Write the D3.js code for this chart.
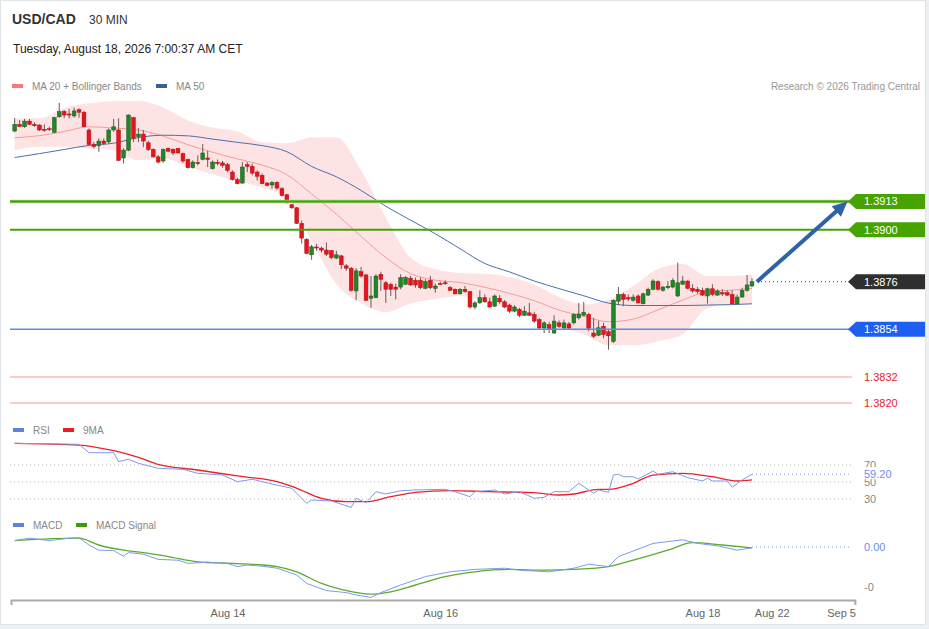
<!DOCTYPE html>
<html>
<head>
<meta charset="utf-8">
<script src="https://cdn.jsdelivr.net/npm/d3@7"></script>
<style>
  html, body { margin: 0; padding: 0; background: #eef1f4; }
  svg { display: block; font-family: "Liberation Sans", Arial, sans-serif; }
</style>
</head>
<body>
<svg id="chart" width="929" height="629"></svg>
<script>
// ---- candles (30 min) ----
const opens = [
  1.39455,1.39486,1.39475,1.39501,1.39486,1.39483,1.39463,1.39466,1.39449,1.39521,
  1.39545,1.39534,1.39525,1.39554,1.39542,1.39460,1.39393,1.39387,1.39409,1.39405,
  1.39460,1.39460,1.39331,1.39367,1.39517,1.39429,1.39441,1.39401,1.39371,1.39336,
  1.39317,1.39375,1.39371,1.39375,1.39351,1.39324,1.39286,1.39310,1.39324,1.39331,
  1.39282,1.39311,1.39308,1.39300,1.39266,1.39231,1.39215,1.39300,1.39292,1.39266,
  1.39251,1.39215,1.39206,1.39218,1.39189,1.39161,1.39115,1.39101,1.39029,1.38955,
  1.38884,1.38920,1.38915,1.38906,1.38903,1.38869,1.38879,1.38833,1.38822,1.38717,
  1.38806,1.38791,1.38683,1.38686,1.38794,1.38755,1.38748,1.38735,1.38735,1.38748,
  1.38776,1.38766,1.38766,1.38729,1.38766,1.38729,1.38751,1.38755,1.38732,1.38725,
  1.38704,1.38725,1.38714,1.38643,1.38662,1.38686,1.38667,1.38647,1.38683,1.38667,
  1.38652,1.38624,1.38632,1.38605,1.38616,1.38609,1.38585,1.38546,1.38562,1.38523,
  1.38570,1.38546,1.38565,1.38570,1.38593,1.38605,1.38609,1.38523,1.38513,1.38554,
  1.38529,1.38485,1.38670,1.38701,1.38686,1.38674,1.38694,1.38658,1.38698,1.38725,
  1.38760,1.38720,1.38732,1.38735,1.38694,1.38748,1.38763,1.38729,1.38725,1.38720,
  1.38694,1.38727,1.38698,1.38709,1.38709,1.38701,1.38658,1.38689,1.38720,1.38740
];
const highs = [
  1.39515,1.39506,1.39511,1.39511,1.39495,1.39486,1.39486,1.39475,1.39521,1.39585,
  1.39552,1.39557,1.39563,1.39560,1.39548,1.39467,1.39405,1.39421,1.39421,1.39467,
  1.39511,1.39514,1.39376,1.39532,1.39521,1.39469,1.39460,1.39410,1.39375,1.39344,
  1.39375,1.39379,1.39375,1.39377,1.39356,1.39328,1.39320,1.39344,1.39395,1.39364,
  1.39320,1.39324,1.39317,1.39308,1.39274,1.39240,1.39312,1.39312,1.39305,1.39274,
  1.39259,1.39220,1.39224,1.39224,1.39196,1.39166,1.39119,1.39104,1.39042,1.38961,
  1.38930,1.38934,1.38921,1.38941,1.38906,1.38903,1.38884,1.38841,1.38828,1.38822,
  1.38828,1.38797,1.38786,1.38794,1.38806,1.38763,1.38755,1.38751,1.38794,1.38786,
  1.38786,1.38779,1.38779,1.38771,1.38786,1.38751,1.38760,1.38766,1.38740,1.38729,
  1.38731,1.38740,1.38717,1.38670,1.38720,1.38701,1.38686,1.38701,1.38698,1.38675,
  1.38658,1.38652,1.38639,1.38647,1.38662,1.38621,1.38593,1.38578,1.38574,1.38605,
  1.38581,1.38585,1.38574,1.38616,1.38662,1.38667,1.38616,1.38593,1.38578,1.38570,
  1.38540,1.38678,1.38735,1.38709,1.38701,1.38701,1.38701,1.38709,1.38732,1.38771,
  1.38766,1.38740,1.38763,1.38776,1.38848,1.38786,1.38766,1.38748,1.38735,1.38732,
  1.38732,1.38748,1.38725,1.38725,1.38720,1.38720,1.38701,1.38732,1.38791,1.38776
];
const lows = [
  1.39450,1.39474,1.39470,1.39483,1.39475,1.39455,1.39452,1.39455,1.39449,1.39517,
  1.39514,1.39514,1.39517,1.39517,1.39472,1.39390,1.39375,1.39359,1.39390,1.39398,
  1.39452,1.39316,1.39305,1.39362,1.39405,1.39404,1.39381,1.39364,1.39333,1.39305,
  1.39308,1.39359,1.39344,1.39351,1.39308,1.39282,1.39282,1.39297,1.39320,1.39289,
  1.39277,1.39297,1.39286,1.39266,1.39227,1.39209,1.39212,1.39266,1.39251,1.39227,
  1.39209,1.39200,1.39189,1.39184,1.39153,1.39119,1.39096,1.39026,1.38936,1.38887,
  1.38861,1.38903,1.38895,1.38879,1.38864,1.38864,1.38818,1.38810,1.38714,1.38674,
  1.38779,1.38670,1.38639,1.38683,1.38717,1.38662,1.38694,1.38678,1.38725,1.38745,
  1.38740,1.38732,1.38725,1.38725,1.38725,1.38709,1.38745,1.38745,1.38717,1.38701,
  1.38701,1.38709,1.38636,1.38632,1.38658,1.38662,1.38639,1.38643,1.38658,1.38638,
  1.38616,1.38619,1.38596,1.38601,1.38601,1.38570,1.38539,1.38523,1.38523,1.38519,
  1.38546,1.38539,1.38539,1.38562,1.38585,1.38601,1.38531,1.38500,1.38508,1.38499,
  1.38446,1.38477,1.38652,1.38647,1.38670,1.38667,1.38658,1.38655,1.38694,1.38720,
  1.38720,1.38714,1.38725,1.38729,1.38689,1.38745,1.38725,1.38709,1.38704,1.38694,
  1.38658,1.38694,1.38694,1.38694,1.38694,1.38655,1.38655,1.38686,1.38714,1.38735
];
const closes = [
  1.39486,1.39477,1.39501,1.39486,1.39480,1.39460,1.39460,1.39462,1.39517,1.39545,
  1.39529,1.39529,1.39548,1.39542,1.39475,1.39393,1.39384,1.39409,1.39398,1.39460,
  1.39475,1.39320,1.39367,1.39529,1.39421,1.39441,1.39409,1.39370,1.39336,1.39312,
  1.39370,1.39362,1.39354,1.39354,1.39317,1.39286,1.39312,1.39305,1.39354,1.39324,
  1.39312,1.39306,1.39297,1.39274,1.39231,1.39212,1.39289,1.39292,1.39261,1.39246,
  1.39212,1.39204,1.39218,1.39192,1.39158,1.39127,1.39101,1.39029,1.38961,1.38890,
  1.38921,1.38916,1.38906,1.38887,1.38871,1.38884,1.38838,1.38822,1.38720,1.38810,
  1.38786,1.38674,1.38694,1.38786,1.38771,1.38725,1.38725,1.38725,1.38779,1.38779,
  1.38745,1.38745,1.38732,1.38760,1.38732,1.38740,1.38747,1.38752,1.38720,1.38704,
  1.38725,1.38714,1.38643,1.38662,1.38686,1.38667,1.38643,1.38694,1.38667,1.38643,
  1.38624,1.38643,1.38605,1.38624,1.38605,1.38578,1.38546,1.38570,1.38539,1.38578,
  1.38554,1.38570,1.38546,1.38609,1.38611,1.38619,1.38545,1.38508,1.38547,1.38516,
  1.38510,1.38674,1.38701,1.38678,1.38680,1.38689,1.38662,1.38704,1.38725,1.38763,
  1.38725,1.38735,1.38739,1.38766,1.38755,1.38763,1.38729,1.38717,1.38714,1.38698,
  1.38727,1.38701,1.38717,1.38703,1.38698,1.38658,1.38689,1.38720,1.38745,1.38760
];

// ---- MA 20, Bollinger Bands, MA 50 (read every 5 candles) ----
const maIdx = [0,5,10,15,20,25,30,35,40,45,50,55,60,65,70,75,80,85,90,95,100,105,110,115,120,125,130,135,140,145,149];
const ma20 = [1.39424,1.39434,1.39453,1.39475,1.39469,1.39460,1.39432,1.39392,1.39357,1.39327,1.39298,1.39254,1.39165,1.39072,1.38969,1.38871,
  1.38797,1.38767,1.38756,1.38734,1.38706,1.38672,1.38629,1.38600,1.38575,1.38587,1.38630,1.38675,1.38714,1.38721,1.38729];
const ma50 = [1.39333,1.39351,1.39370,1.39389,1.39399,1.39425,1.39436,1.39433,1.39418,1.39403,1.39388,1.39360,1.39292,1.39244,1.39181,1.39108,
  1.39044,1.38981,1.38912,1.38844,1.38805,1.38763,1.38728,1.38695,1.38661,1.38650,1.38650,1.38650,1.38652,1.38654,1.38658];
const bbUpper = [1.39514,1.39514,1.39562,1.39583,1.39593,1.39594,1.39564,1.39504,1.39471,1.39453,1.39404,1.39399,1.39425,1.39427,1.39274,1.39056,
  1.38870,1.38817,1.38800,1.38796,1.38782,1.38747,1.38689,1.38655,1.38677,1.38740,1.38819,1.38841,1.38786,1.38786,1.38794];
const bbLower = [1.39367,1.39383,1.39383,1.39375,1.39367,1.39320,1.39330,1.39290,1.39256,1.39225,1.39195,1.39146,1.38949,1.38749,1.38661,1.38619,
  1.38659,1.38680,1.38694,1.38670,1.38633,1.38596,1.38552,1.38517,1.38466,1.38466,1.38485,1.38517,1.38638,1.38655,1.38655];

// ---- levels ----
const resistances = [1.3913, 1.3900];
const pivot = 1.3876;
const support1 = 1.3854;
const supports = [1.3832, 1.3820];

// ---- RSI + 9MA ----
const rsiIdx = [0,13,15,20,21,23,25,29,34,37,42,45,48,52,56,59,60,64,68,69,71,73,75,78,81,87,89,92,93,97,
  99,102,105,107,109,112,114,117,118,120,121,122,123,125,126,129,130,133,136,139,140,141,144,145,147,149];
const rsiVal = [95.5,94.4,84.5,84.5,73.9,76.7,72.0,66.1,64.9,60.2,58.2,50.4,53.2,47.6,42.6,24.9,28.8,27.6,20.2,30.8,
  25.6,38.6,35.9,39.8,40.6,41.4,38.6,32.7,38.6,40.6,35.9,38.6,30.8,32.0,38.6,38.6,48.5,36.7,40.6,37.9,
  58.2,59.1,56.2,56.2,53.5,62.9,59.1,62.1,55.1,51.2,54.4,51.2,51.2,43.8,52.4,59.2];
const rsiMaIdx = [0,13,20,25,29,37,45,53,57,62,67,71,76,81,88,96,105,110,113,118,120,125,129,135,141,146,149];
const rsiMaVal = [95.5,93.5,86.8,79.1,70.8,64.1,57.1,50.4,42.6,30.8,26.8,26.8,32.7,37.9,39.8,38.6,37.4,34.7,35.9,41.4,41.4,48.5,58.2,60.2,56.2,51.2,52.4];
const rsiTicks = [70, 50, 30];
const rsiLast = 59.20;

// ---- MACD + signal ----
const macdIdx = [0,3,7,11,13,15,17,20,22,23,26,29,33,35,39,43,45,47,50,53,57,59,63,67,69,72,74,78,83,88,
  93,99,102,108,113,116,120,122,125,129,135,138,142,146,149];
const macdVal = [0.00016,0.00022,0.00016,0.00022,0.00023,0.00005,-0.00008,-0.00009,-0.00023,-0.00014,
  -0.00018,-0.00031,-0.00033,-0.00041,-0.00038,-0.00041,-0.00049,-0.00045,-0.00048,-0.00053,
  -0.00070,-0.00091,-0.00109,-0.00114,-0.00120,-0.00126,-0.00114,-0.00095,-0.00074,-0.00062,
  -0.00056,-0.00053,-0.00058,-0.00062,-0.00053,-0.00043,-0.00049,-0.00024,-0.00010,0.00009,
  0.00018,0.00009,0.00003,-0.00008,-0.00002];
const sigIdx = [0,13,17,22,26,31,37,44,50,53,57,62,66,72,76,81,87,93,100,107,113,120,125,132,137,143,149];
const sigVal = [0.00016,0.00022,0.00005,-0.00008,-0.00014,-0.00024,-0.00037,-0.00041,-0.00045,-0.00049,
  -0.00062,-0.00091,-0.00106,-0.00118,-0.00112,-0.00095,-0.00074,-0.00062,-0.00056,-0.00058,
  -0.00056,-0.00049,-0.00033,-0.00008,0.00011,0.00005,-0.00002];
const macdTickVals = [-0.001];
const macdTickText = ["-0"];
const macdLastText = "0.00";

// ---- time axis ----
const tickIdx = [43, 86, 139, 153, 167];
const tickLabels = ["Aug 14", "Aug 16", "Aug 18", "Aug 22", "Sep 5"];

// ---- projection arrow ----
const arrowFrom = { idx: 150, price: 1.3876 };
const arrowTo = { idx: 168.3, price: 1.3913 };

// ==============================
const svg = d3.select("#chart");
const lineEnd = 852;
const labelX = 864;

svg.append("rect")
  .attr("x", 0.5).attr("y", 0.5).attr("width", 925).attr("height", 624)
  .attr("fill", "#fff").attr("stroke", "#dfe4e8");

// scales
const x = d3.scaleLinear().domain([0, 149]).range([14.7, 752]);
const yP = d3.scaleLinear().domain([1.3820, 1.3913]).range([403, 201.5]);
const yR = d3.scaleLinear().domain([30, 70]).range([499, 465]);
const yM = d3.scaleLinear().domain([-0.001, 0]).range([587, 547]);

// header
svg.append("text").attr("x", 12).attr("y", 24)
  .style("font-size", "14px").style("font-weight", "bold").attr("fill", "#333").text("USD/CAD");
svg.append("text").attr("x", 89).attr("y", 23.5)
  .style("font-size", "12px").attr("fill", "#333").text("30 MIN");
svg.append("text").attr("x", 13).attr("y", 52.5)
  .style("font-size", "12px").attr("fill", "#222").text("Tuesday, August 18, 2026 7:00:37 AM CET");
svg.append("text").attr("x", 920).attr("y", 89.5).attr("text-anchor", "end")
  .style("font-size", "10px").attr("fill", "#999").text("Research \u00a9 2026 Trading Central");

function legend(items, y) {
  const g = svg.append("g");
  items.forEach(it => {
    g.append("rect").attr("x", it.x).attr("y", y - 2).attr("width", 11).attr("height", 4).attr("fill", it.color);
    g.append("text").attr("x", it.x + 20).attr("y", y + 3.5)
      .style("font-size", "10px").attr("fill", "#888").text(it.label);
  });
}
legend([{ x: 12, color: "#f77b7b", label: "MA 20 + Bollinger Bands" },
        { x: 156, color: "#3a5f9e", label: "MA 50" }], 86);
legend([{ x: 13, color: "#5b84e0", label: "RSI" },
        { x: 63, color: "#ee1c24", label: "9MA" }], 430);
legend([{ x: 13, color: "#5b84e0", label: "MACD" },
        { x: 76, color: "#3e9a0a", label: "MACD Signal" }], 525);

// ---- price panel ----
const ma = maIdx.map((d, k) => ({ i: d, m20: ma20[k], m50: ma50[k], up: bbUpper[k], lo: bbLower[k] }));

svg.append("path").datum(ma)
  .attr("fill", "#fde3e3")
  .attr("d", d3.area().x(d => x(d.i)).y0(d => yP(d.lo)).y1(d => yP(d.up)).curve(d3.curveMonotoneX));

svg.append("path").datum(ma)
  .attr("fill", "none").attr("stroke", "#f59b9b").attr("stroke-width", 1)
  .attr("d", d3.line().x(d => x(d.i)).y(d => yP(d.m20)).curve(d3.curveMonotoneX));

svg.append("path").datum(ma)
  .attr("fill", "none").attr("stroke", "#4a6fac").attr("stroke-width", 1)
  .attr("d", d3.line().x(d => x(d.i)).y(d => yP(d.m50)).curve(d3.curveMonotoneX));

const candles = opens.map((o, i) => ({ i, o, h: highs[i], l: lows[i], c: closes[i] }));
const cg = svg.append("g");
cg.selectAll("line")
  .data(candles)
  .join("line")
    .attr("x1", d => x(d.i)).attr("x2", d => x(d.i))
    .attr("y1", d => yP(d.h)).attr("y2", d => yP(d.l))
    .attr("stroke", "#6a5a5a").attr("stroke-width", 1);
cg.selectAll("rect")
  .data(candles)
  .join("rect")
    .attr("x", d => x(d.i) - 1.9)
    .attr("width", 3.8)
    .attr("y", d => yP(Math.max(d.o, d.c)))
    .attr("height", d => Math.max(1, Math.abs(yP(d.o) - yP(d.c))))
    .attr("fill", d => d.c >= d.o ? "#21862a" : "#e8141b")
    .attr("stroke", d => d.c >= d.o ? "#1a5a1e" : "#b00f14")
    .attr("stroke-width", 0.5);

// level lines
svg.append("line").attr("x1", 10).attr("x2", lineEnd)
  .attr("y1", yP(resistances[0])).attr("y2", yP(resistances[0]))
  .attr("stroke", "#9fd57c").attr("stroke-width", 3.5);
resistances.forEach(v => {
  svg.append("line").attr("x1", 10).attr("x2", lineEnd)
    .attr("y1", yP(v)).attr("y2", yP(v))
    .attr("stroke", "#46a008").attr("stroke-width", 2);
});
svg.append("line").attr("x1", 10).attr("x2", lineEnd)
  .attr("y1", yP(support1)).attr("y2", yP(support1))
  .attr("stroke", "#5b8ee8").attr("stroke-width", 1.5);
supports.forEach(v => {
  svg.append("line").attr("x1", 10).attr("x2", lineEnd)
    .attr("y1", yP(v)).attr("y2", yP(v))
    .attr("stroke", "#f39a9a").attr("stroke-width", 1);
});
svg.append("line").attr("x1", x(149) + 5).attr("x2", lineEnd)
  .attr("y1", yP(pivot)).attr("y2", yP(pivot))
  .attr("stroke", "#444").attr("stroke-width", 1).attr("stroke-dasharray", "1,3");

// price tags
function tag(v, color) {
  const y = yP(v);
  svg.append("path")
    .attr("d", `M848,${y}L856,${y - 7.5}H925V${y + 7.5}H856Z`)
    .attr("fill", color);
  svg.append("text").attr("x", labelX).attr("y", y).attr("dy", "0.36em")
    .style("font-size", "11px").attr("fill", "#fff").text(v.toFixed(4));
}
resistances.forEach(v => tag(v, "#47a300"));
tag(pivot, "#2f2f2f");
tag(support1, "#1c5ff2");
supports.forEach(v => {
  svg.append("text").attr("x", labelX).attr("y", yP(v)).attr("dy", "0.36em")
    .style("font-size", "11px").attr("fill", "#e8202a").text(v.toFixed(4));
});

// projection arrow
{
  const x0 = x(arrowFrom.idx), y0 = yP(arrowFrom.price);
  const x1 = x(arrowTo.idx), y1 = yP(arrowTo.price);
  const len = Math.hypot(x1 - x0, y1 - y0);
  const ux = (x1 - x0) / len, uy = (y1 - y0) / len;
  const head = 15, half = 7;
  const bx = x1 - ux * head, by = y1 - uy * head;
  svg.append("line")
    .attr("x1", x0).attr("y1", y0).attr("x2", bx + ux * 2).attr("y2", by + uy * 2)
    .attr("stroke", "#2e62a6").attr("stroke-width", 4);
  svg.append("path")
    .attr("d", `M${x1},${y1}L${bx - uy * half},${by + ux * half}L${bx + uy * half},${by - ux * half}Z`)
    .attr("fill", "#2e62a6");
}

// ---- RSI panel ----
rsiTicks.forEach(v => {
  svg.append("line").attr("x1", 10).attr("x2", 851)
    .attr("y1", yR(v)).attr("y2", yR(v))
    .attr("stroke", "#b5b5b5").attr("stroke-width", 1).attr("stroke-dasharray", "1,3");
  svg.append("text").attr("x", labelX).attr("y", yR(v)).attr("dy", "0.36em")
    .style("font-size", "11px").attr("fill", "#888").text(v);
});

svg.append("path")
  .datum(rsiMaIdx.map((d, k) => [d, rsiMaVal[k]]))
  .attr("fill", "none").attr("stroke", "#ee2027").attr("stroke-width", 1.3)
  .attr("d", d3.line().x(d => x(d[0])).y(d => yR(d[1])).curve(d3.curveMonotoneX));
svg.append("path")
  .datum(rsiIdx.map((d, k) => [d, rsiVal[k]]))
  .attr("fill", "none").attr("stroke", "#7b9ceb").attr("stroke-width", 1)
  .attr("d", d3.line().x(d => x(d[0])).y(d => yR(d[1])));

svg.append("line").attr("x1", x(149)).attr("x2", 851)
  .attr("y1", yR(rsiLast)).attr("y2", yR(rsiLast))
  .attr("stroke", "#7b9ceb").attr("stroke-width", 1).attr("stroke-dasharray", "1,3");
svg.append("rect").attr("x", labelX - 1).attr("y", yR(rsiLast) - 7).attr("width", 32).attr("height", 12).attr("fill", "#fff");
svg.append("text").attr("x", labelX).attr("y", yR(rsiLast)).attr("dy", "0.36em")
  .style("font-size", "11px").attr("fill", "#6b8fe6").text(rsiLast.toFixed(2));

// ---- MACD panel ----
svg.append("path")
  .datum(sigIdx.map((d, k) => [d, sigVal[k]]))
  .attr("fill", "none").attr("stroke", "#5cab2c").attr("stroke-width", 1.3)
  .attr("d", d3.line().x(d => x(d[0])).y(d => yM(d[1])).curve(d3.curveMonotoneX));
svg.append("path")
  .datum(macdIdx.map((d, k) => [d, macdVal[k]]))
  .attr("fill", "none").attr("stroke", "#7b9ceb").attr("stroke-width", 1)
  .attr("d", d3.line().x(d => x(d[0])).y(d => yM(d[1])));

svg.append("line").attr("x1", x(149)).attr("x2", 851)
  .attr("y1", yM(0)).attr("y2", yM(0))
  .attr("stroke", "#7b9ceb").attr("stroke-width", 1).attr("stroke-dasharray", "1,3");
macdTickVals.forEach((v, k) => {
  svg.append("text").attr("x", labelX).attr("y", yM(v)).attr("dy", "0.36em")
    .style("font-size", "11px").attr("fill", "#888").text(macdTickText[k]);
});
svg.append("text").attr("x", labelX).attr("y", yM(0)).attr("dy", "0.36em")
  .style("font-size", "11px").attr("fill", "#6b8fe6").text(macdLastText);

// ---- time axis ----
const xAxisScale = d3.scaleLinear().domain([-0.75, 169.8]).range([x(-0.75), x(169.8)]);
const axis = svg.append("g")
  .attr("transform", "translate(0,600)")
  .call(d3.axisBottom(xAxisScale)
    .tickValues(tickIdx)
    .tickFormat((d, k) => tickLabels[k])
    .tickSizeInner(0)
    .tickSizeOuter(5)
    .tickPadding(9));
axis.select(".domain").attr("stroke", "#aaa").attr("stroke-width", 2);
axis.selectAll("text")
  .style("font-family", "'Liberation Sans', Arial, sans-serif")
  .style("font-size", "11px").attr("fill", "#666");
</script>
</body>
</html>
